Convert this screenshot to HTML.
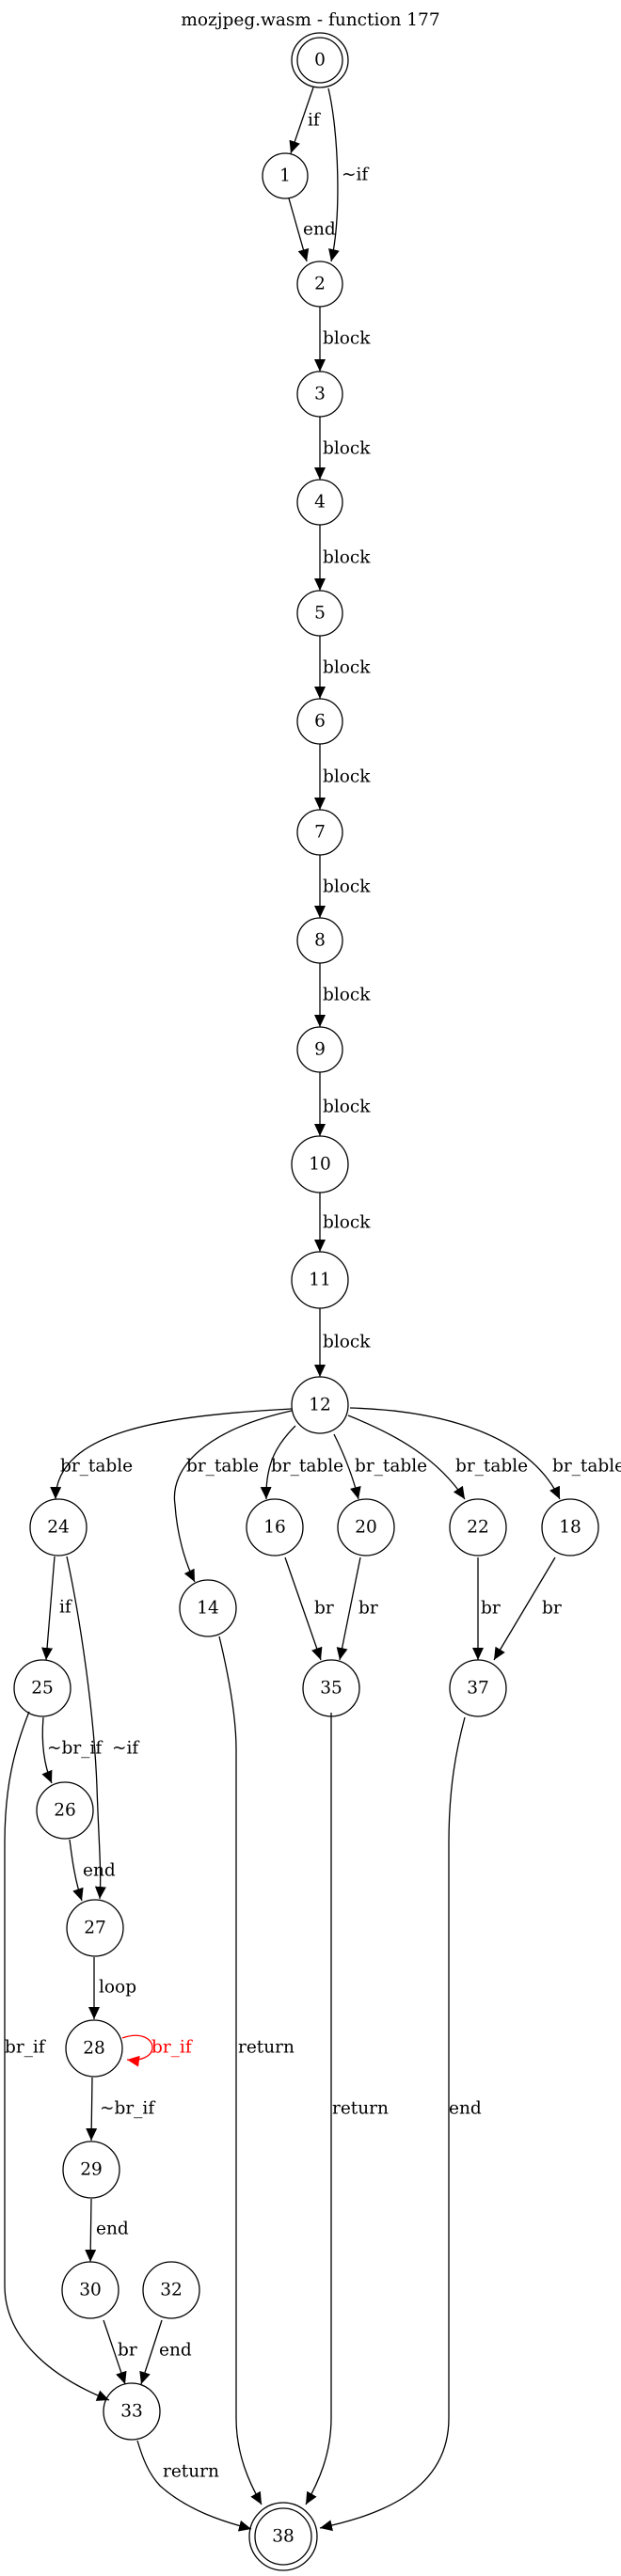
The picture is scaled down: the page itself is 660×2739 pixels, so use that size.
<!DOCTYPE html>
<html><head><meta charset="utf-8"><style>html,body{margin:0;padding:0;background:#fff}svg{display:block}text{font-family:"DejaVu Serif","Liberation Serif",serif;font-size:18.5px}</style></head>
<body>
<svg width="660" height="2739" viewBox="0 0 660 2739" xmlns="http://www.w3.org/2000/svg">
<defs>
<marker id="a" markerUnits="userSpaceOnUse" markerWidth="14" markerHeight="12" refX="13" refY="6" orient="auto"><path d="M0,0 L13,6 L0,12 z" fill="#000"/></marker>
<marker id="r" markerUnits="userSpaceOnUse" markerWidth="14" markerHeight="12" refX="13" refY="6" orient="auto"><path d="M0,0 L13,6 L0,12 z" fill="#f00"/></marker>
</defs>
<rect width="660" height="2739" fill="#fff"/>
<text x="330" y="27" text-anchor="middle">mozjpeg.wasm - function 177</text>
<g fill="none" stroke="#000" stroke-width="1.3" marker-end="url(#a)">
<path d="M333,93 L309,163"/>
<path d="M349,94 C360,140 363,230 352,278"/>
<path d="M307,211 L326,278"/>
<path d="M340,326 L340,395"/>
<path d="M340,443 L340,510"/>
<path d="M340,558 L340,628"/>
<path d="M340,676 L340,743"/>
<path d="M340,791 L340,861"/>
<path d="M340,909 L340,976"/>
<path d="M340,1024 L340,1092"/>
<path d="M340,1140 L340,1208"/>
<path d="M340,1268 L340,1331"/>
<path d="M340,1391 L340,1464"/>
<path d="M310,1498 C180,1505 60,1520 59,1594"/>
<path d="M310,1500 C220,1520 180,1560 186,1600 C188,1630 196,1660 207,1682"/>
<path d="M314,1516 C295,1535 282,1555 283,1594"/>
<path d="M355,1525 C365,1545 375,1570 381,1594"/>
<path d="M370,1505 C420,1525 465,1550 494,1594"/>
<path d="M372,1497 C480,1500 565,1530 595,1594"/>
<path d="M58,1655 L49,1765"/>
<path d="M71,1655 C85,1720 100,1820 103,1900 C105,1960 108,1990 106,2019"/>
<path d="M46,1826 C44,1850 46,1875 55,1896"/>
<path d="M74,1956 C77,1980 80,2000 87,2021"/>
<path d="M31,1820 C15,1860 5,1900 5,1960 L5,2430 C5,2490 60,2530 116,2552"/>
<path d="M100,2081 L100,2147"/>
<path d="M98,2209 L97,2276"/>
<path d="M97,2338 L96,2405"/>
<path d="M110,2467 L133,2535"/>
<path d="M172,2467 L150,2535"/>
<path d="M146,2595 C152,2615 158,2630 170,2643 C200,2670 240,2682 267,2689"/>
<path d="M233,1740 C245,1790 251,1830 251,1860 L251,2571 C251,2610 265,2640 278,2663"/>
<path d="M352,1821 L352,2571 C352,2610 338,2640 325,2663"/>
<path d="M494,1826 C485,1860 477,1900 477,1960 L477,2571 C477,2650 400,2675 340,2688"/>
<path d="M303,1656 L341,1765"/>
<path d="M383,1656 L361,1765"/>
<path d="M508,1656 L508,1765"/>
<path d="M590,1656 L525,1765"/>
</g>
<path d="M130,2167 C150,2160 162,2168 162,2177 C162,2186 150,2192 135,2190" fill="none" stroke="#f00" stroke-width="1.3" marker-end="url(#r)"/>
<g fill="none" stroke="#000" stroke-width="1.3">
<ellipse cx="340" cy="64" rx="30" ry="29"/><ellipse cx="340" cy="64" rx="24" ry="24"/>
<circle cx="303" cy="187" r="24"/>
<circle cx="340" cy="302" r="24"/>
<circle cx="340" cy="419" r="24"/>
<circle cx="340" cy="534" r="24"/>
<circle cx="340" cy="652" r="24"/>
<circle cx="340" cy="767" r="24"/>
<circle cx="340" cy="885" r="24"/>
<circle cx="340" cy="1000" r="24"/>
<circle cx="340" cy="1116" r="24"/>
<circle cx="340" cy="1238" r="30"/>
<circle cx="340" cy="1361" r="30"/>
<circle cx="340" cy="1494" r="30"/>
<circle cx="62" cy="1624" r="30"/>
<circle cx="221" cy="1710" r="30"/>
<circle cx="292" cy="1624" r="30"/>
<circle cx="389" cy="1624" r="30"/>
<circle cx="508" cy="1624" r="30"/>
<circle cx="606" cy="1624" r="30"/>
<circle cx="45" cy="1795" r="30"/>
<circle cx="352" cy="1795" r="30"/>
<circle cx="508" cy="1795" r="30"/>
<circle cx="69" cy="1925" r="30"/>
<circle cx="101" cy="2050" r="30"/>
<circle cx="100" cy="2178" r="30"/>
<circle cx="97" cy="2307" r="30"/>
<circle cx="96" cy="2435" r="30"/>
<circle cx="182" cy="2435" r="30"/>
<circle cx="140" cy="2564" r="30"/>
<circle cx="301" cy="2697" r="36"/><circle cx="301" cy="2697" r="30"/>
</g>
<g text-anchor="middle" dominant-baseline="central">
<text x="340" y="64">0</text><text x="303" y="187">1</text><text x="340" y="302">2</text>
<text x="340" y="419">3</text><text x="340" y="534">4</text><text x="340" y="652">5</text>
<text x="340" y="767">6</text><text x="340" y="885">7</text><text x="340" y="1000">8</text>
<text x="340" y="1116">9</text><text x="340" y="1238">10</text><text x="340" y="1361">11</text>
<text x="340" y="1494">12</text><text x="62" y="1624">24</text><text x="221" y="1710">14</text>
<text x="292" y="1624">16</text><text x="389" y="1624">20</text><text x="508" y="1624">22</text>
<text x="606" y="1624">18</text><text x="45" y="1795">25</text><text x="352" y="1795">35</text>
<text x="508" y="1795">37</text><text x="69" y="1925">26</text><text x="101" y="2050">27</text>
<text x="100" y="2178">28</text><text x="97" y="2307">29</text><text x="96" y="2435">30</text>
<text x="182" y="2435">32</text><text x="140" y="2564">33</text><text x="301" y="2697">38</text>
</g>
<g dominant-baseline="central">
<text x="327" y="128">if</text>
<text x="363" y="186">~if</text>
<text x="322" y="244">end</text>
<text x="343" y="360">block</text><text x="343" y="477">block</text><text x="343" y="593">block</text>
<text x="343" y="710">block</text><text x="343" y="826">block</text><text x="343" y="943">block</text>
<text x="343" y="1058">block</text><text x="343" y="1177">block</text><text x="343" y="1300">block</text>
<text x="343" y="1427">block</text>
<text x="64" y="1559">br_table</text><text x="198" y="1559">br_table</text><text x="288" y="1559">br_table</text>
<text x="377" y="1559">br_table</text><text x="484" y="1559">br_table</text><text x="587" y="1559">br_table</text>
<text x="63" y="1709">if</text>
<text x="334" y="1710">br</text><text x="381" y="1710">br</text><text x="511" y="1710">br</text><text x="576" y="1710">br</text>
<text x="50" y="1859">~br_if</text><text x="119" y="1859">~if</text>
<text x="88" y="1989">end</text>
<text x="105" y="2113">loop</text>
<text x="5" y="2177">br_if</text>
<text x="161" y="2177" fill="#f00">br_if</text>
<text x="106" y="2242">~br_if</text>
<text x="102" y="2370">end</text>
<text x="125" y="2499">br</text><text x="169" y="2499">end</text>
<text x="173" y="2628">return</text>
<text x="253" y="2177">return</text>
<text x="353" y="2242">return</text>
<text x="477" y="2242">end</text>
</g>
</svg>
</body></html>
